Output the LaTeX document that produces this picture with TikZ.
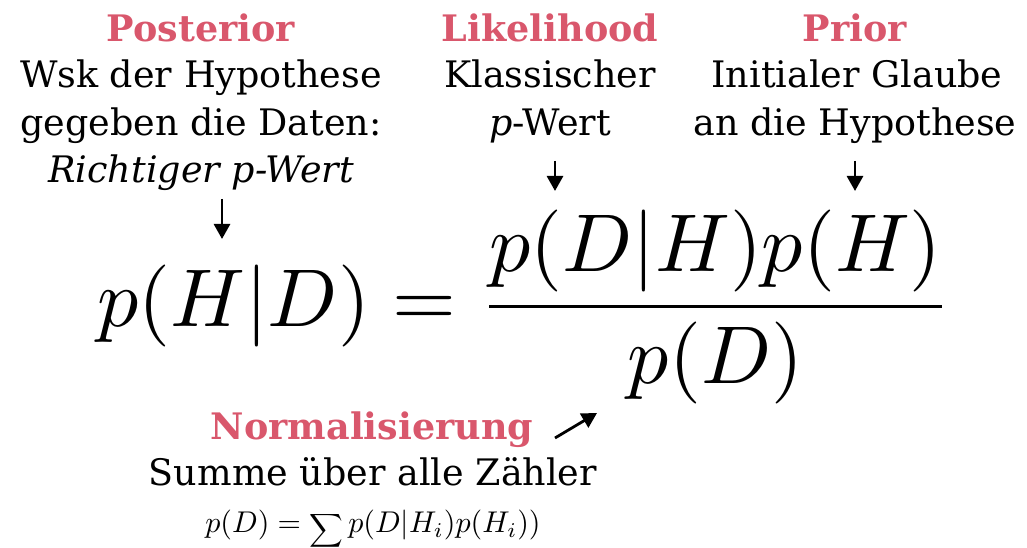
\documentclass[tikz,border=0pt]{standalone}
\usepackage[no-math]{fontspec}
\usepackage{graphicx}
\setmainfont{DejaVu Serif}
\usetikzlibrary{arrows.meta}
\definecolor{titlered}{HTML}{D9576C}
\newcommand{\bigsumop}{\mathop{\raisebox{-1.4pt}{\scalebox{0.78}{$\displaystyle\sum$}}}}
\begin{document}
\begin{tikzpicture}[x=1pt,y=1pt,
  txt/.style={inner sep=0pt,anchor=base,font=\fontsize{36.5}{44}\selectfont},
  ttl/.style={txt,text=titlered,font=\fontsize{36.5}{44}\selectfont\bfseries},
  arr/.style={line width=2.8pt,-{Triangle[width=16pt,length=15pt]}}]
\useasboundingbox (0,0) rectangle (1027,548);
% Posterior
\node[ttl] (post) at (201,506) {Posterior};
\node[txt] (post1) at (201,460) {Wsk der Hypothese};
\node[txt] (post2) at (201,412) {gegeben die Daten:};
\node[txt] (post3) at (201,365) {\itshape Richtiger p-Wert};
% Likelihood
\node[ttl] (lik) at (550,506) {Likelihood};
\node[txt] (lik1) at (550,460) {Klassischer};
\node[txt] (lik2) at (550,412) {\textit{p}-Wert};
% Prior
\node[ttl] (pri) at (855,506) {Prior};
\node[txt] (pri1) at (857,460) {Initialer Glaube};
\node[txt] (pri2) at (855,412) {an die Hypothese};
% Normalisierung
\node[ttl] (norm) at (372,108) {Normalisierung};
\node[txt] (norm1) at (373,62) {Summe über alle Zähler};
\node[inner sep=0pt,anchor=base] (norm2) at (373,15) {\scalebox{3.0}{$p(D) = \bigsumop p(D|H_i)p(H_i))$}};
% Equation
\node[inner sep=0pt,anchor=base west] (eq) at (97,221)
  {\scalebox{8.2}{$\displaystyle p(H|D) = \frac{p(D|H)p(H)}{p(D)}$}};
% arrows
\coordinate (a1s) at (222,349); \coordinate (a1e) at (222,309);
\coordinate (a2s) at (555,387); \coordinate (a2e) at (555,357);
\coordinate (a3s) at (855,387); \coordinate (a3e) at (855,357);
\coordinate (a4s) at (555,110); \coordinate (a4e) at (597,135);
\draw[arr] (a1s) -- (a1e);
\draw[arr] (a2s) -- (a2e);
\draw[arr] (a3s) -- (a3e);
\draw[arr] (a4s) -- (a4e);
\end{tikzpicture}
\end{document}
